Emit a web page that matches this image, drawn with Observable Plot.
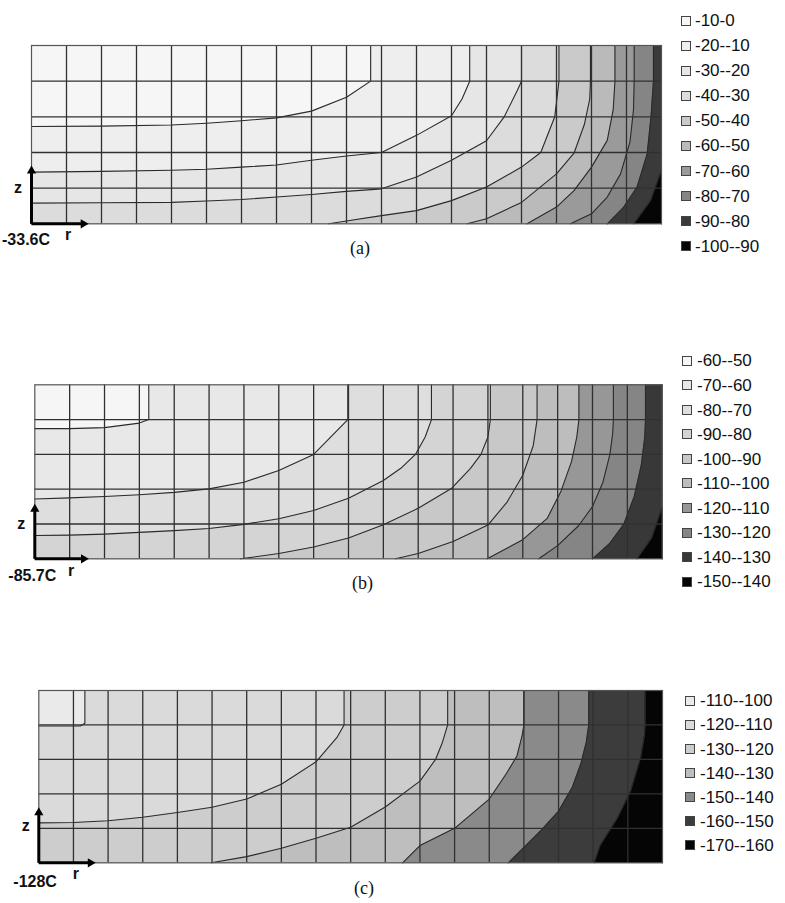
<!DOCTYPE html>
<html><head><meta charset="utf-8">
<script src="https://cdn.jsdelivr.net/npm/d3@7"></script>
<script src="https://cdn.jsdelivr.net/npm/@observablehq/plot@0.6"></script>
<style>
body{margin:0;background:#fff;}
#page{position:relative;width:785px;height:903px;background:#fff;overflow:hidden;font-family:"Liberation Sans",Arial,sans-serif;color:#111;}
.panel{position:absolute;left:0;}
.lab{position:absolute;white-space:nowrap;line-height:1;}
.sw{position:absolute;width:10px;height:10px;box-sizing:border-box;border:1px solid #444;}
.lt{position:absolute;white-space:nowrap;line-height:1;font-size:17px;color:#111;}
.bold{font-weight:bold;font-size:16px;}
.cap{font-family:"Liberation Serif","Times New Roman",serif;font-size:18px;transform:translateX(-50%);}
</style></head><body><div id="page"></div>
<script>
// ---- grid (mesh) lines, in cell units ----
const gridR = [1,2,3,4,5,6,7,8,9,10,11,12,13,14,15,16,17];
const gridZ = [1,2,3,4];

// ---- legend labels ----
const legendA = ["-10-0","-20--10","-30--20","-40--30","-50--40","-60--50","-70--60","-80--70","-90--80","-100--90"];
const legendB = ["-60--50","-70--60","-80--70","-90--80","-100--90","-110--100","-120--110","-130--120","-140--130","-150--140"];
const legendC = ["-110--100","-120--110","-130--120","-140--130","-150--140","-160--150","-170--160"];

// ---- isotherm boundaries [r, z] ----
const contoursA = [
  [[0,2.73],[2,2.74],[4,2.77],[5,2.82],[6,2.89],[7,2.97],[8,3.16],[9,3.55],[9.69,4],[9.69,5]],
  [[0,1.45],[2,1.47],[4,1.5],[5,1.53],[6,1.59],[7,1.65],[8,1.78],[9,1.9],[10,2.0],[11,2.48],[12,3.03],[12.3,3.5],[12.52,4],[12.52,5]],
  [[0,0.58],[2,0.59],[4,0.6],[5,0.64],[6,0.68],[7,0.75],[8,0.82],[9,0.91],[10,0.98],[11,1.31],[12,1.78],[13,2.33],[13.5,2.99],[13.88,3.74],[14,4],[14,5]],
  [[8.49,0],[9,0.08],[10,0.23],[11,0.37],[12,0.65],[13,1.03],[14,1.59],[14.55,2],[14.95,3],[15.07,4],[15.07,5]],
  [[12.45,0],[13,0.14],[14,0.6],[15,1.4],[15.5,1.98],[15.8,2.8],[15.95,3.5],[15.97,4],[15.97,5]],
  [[14.16,0],[15,0.47],[15.5,0.93],[16,1.59],[16.45,2.34],[16.62,3.2],[16.67,4],[16.67,5]],
  [[15.4,0],[16,0.28],[16.45,0.75],[16.83,1.4],[17.1,2.3],[17.2,3.2],[17.22,4],[17.22,5]],
  [[16.45,0],[16.92,0.47],[17.3,1.03],[17.59,1.96],[17.7,3],[17.77,4],[17.77,5]],
  [[17.21,0],[17.69,0.65],[18,1.5]]
];
const contoursB = [
  [[0,3.74],[1,3.74],[2,3.77],[3,3.9],[3.27,4],[3.27,5]],
  [[0,1.72],[1,1.75],[2,1.79],[3,1.84],[4,1.91],[5,2.01],[6,2.2],[7,2.54],[8,3.0],[8.98,4],[8.98,5]],
  [[0,0.67],[1,0.68],[2,0.71],[3,0.76],[4,0.81],[5,0.87],[6,0.99],[7,1.15],[8,1.39],[9,1.74],[10,2.25],[10.5,2.6],[10.92,3.0],[11.2,3.5],[11.38,4],[11.38,5]],
  [[5.9,0],[7,0.15],[8,0.34],[9,0.6],[10,0.98],[11,1.45],[11.95,2.02],[12.5,2.6],[12.8,3.0],[13.0,3.5],[13.07,4],[13.07,5]],
  [[10.35,0],[11,0.15],[12,0.5],[13,0.97],[13.55,1.63],[14.0,2.4],[14.3,3.25],[14.41,4],[14.41,5]],
  [[12.98,0],[14.0,0.55],[14.7,1.16],[15.1,1.95],[15.4,2.8],[15.55,3.5],[15.61,4],[15.61,5]],
  [[14.46,0],[15,0.38],[15.6,0.95],[16.0,1.5],[16.3,2.2],[16.5,3.0],[16.58,3.6],[16.6,4],[16.6,5]],
  [[16.0,0],[16.5,0.45],[16.9,1.0],[17.2,1.8],[17.4,2.7],[17.5,3.5],[17.52,4],[17.52,5]],
  [[17.28,0],[17.7,0.6],[18,1.48]]
];
const contoursC = [
  [[0,3.97],[1.2,3.97],[1.33,4.05],[1.33,5]],
  [[0,1.16],[1,1.17],[2,1.22],[3,1.32],[4,1.46],[5,1.61],[6,1.85],[7,2.28],[8,2.93],[8.6,3.63],[8.81,4],[8.81,5]],
  [[4.98,0],[6,0.18],[7,0.42],[8,0.71],[9,1.03],[10,1.62],[11,2.37],[11.45,3],[11.65,3.5],[11.8,4],[11.8,5]],
  [[10.5,0],[11,0.5],[12,1.0],[13,1.85],[13.5,2.6],[13.8,3.1],[13.95,3.7],[14,4],[14,5]],
  [[13.55,0],[14,0.45],[14.5,0.95],[15,1.5],[15.4,2.2],[15.65,2.9],[15.8,3.5],[15.87,4],[15.87,5]],
  [[16.03,0],[16.2,0.5],[16.7,1.3],[17.08,2.08],[17.37,3.05],[17.48,3.7],[17.5,4],[17.5,5]]
];

// centre temperatures and panel captions
const centreTemps = ["-33.6C","-85.7C","-128C"];
const captions = ["(a)","(b)","(c)"];

// ---- styles ----
const colorsA = ["#f6f6f6","#eeeeee","#e6e6e6","#dcdcdc","#cacaca","#bababa","#9a9a9a","#858585","#3a3a3a","#050505"];
const colorsB = ["#f6f6f6","#e8e8e8","#dedede","#d4d4d4","#c8c8c8","#bdbdbd","#979797","#858585","#383838","#050505"];
const colorsC = ["#eaeaea","#dadada","#cdcdcd","#bebebe","#8a8a8a","#3c3c3c","#050505"];

const R1 = 18, Z1 = 5;
const page = document.getElementById("page");

const layouts = [
  {contours: contoursA, colors: colorsA, legend: legendA, svgTop: 0, svgH: 300,
   frame: {l: 31, r: 661, t: 45, b: 223.3}, tipZ: 1.63, tipR: 1.63,
   legTop: 20.5, legStep: 25.05, swX: 681, txX: 695,
   capX: 360, capBase: 254, tempX: 2, tempBase: 246, rX: 65, rBase: 240.7, zX: 14, zBase: 193.3},
  {contours: contoursB, colors: colorsB, legend: legendB, svgTop: 300, svgH: 310,
   frame: {l: 34.3, r: 661.7, t: 384.3, b: 558.3}, tipZ: 1.58, tipR: 1.55,
   legTop: 360.7, legStep: 24.55, swX: 682, txX: 697,
   capX: 362.5, capBase: 589, tempX: 8.3, tempBase: 581.7, rX: 68, rBase: 576.7, zX: 17.3, zBase: 529.3},
  {contours: contoursC, colors: colorsC, legend: legendC, svgTop: 610, svgH: 293,
   frame: {l: 38.3, r: 662, t: 690, b: 862.3}, tipZ: 1.61, tipR: 1.64,
   legTop: 700.7, legStep: 24.05, swX: 685, txX: 700,
   capX: 364, capBase: 894, tempX: 13.3, tempBase: 888, rX: 72.7, rBase: 879.3, zX: 21.7, zBase: 832}
];

function addLabel(text, cls, left, top) {
  const d = document.createElement("div");
  d.className = cls;
  d.textContent = text;
  d.style.left = left + "px";
  d.style.top = top + "px";
  page.appendChild(d);
}

layouts.forEach((L, idx) => {
  const f = L.frame;
  const kx = (f.r - f.l) / R1, ky = (f.b - f.t) / Z1;
  const polys = L.contours.map(c => {
    const pts = c.map(([x, y]) => ({x, y}));
    const first = c[0], last = c[c.length - 1];
    if (last[1] >= Z1) pts.push({x: R1, y: Z1});
    pts.push({x: R1, y: 0});
    if (first[0] === 0 && first[1] > 0) pts.push({x: 0, y: 0});
    return pts;
  });
  const head = 5.2;
  const shafts = [
    {x1: 0, y1: 0, x2: 0, y2: L.tipZ - head / ky},
    {x1: 0, y1: 0, x2: L.tipR - head / kx, y2: 0}
  ];
  const svg = Plot.plot({
    width: 785, height: L.svgH,
    marginLeft: f.l, marginRight: 785 - f.r,
    marginTop: f.t - L.svgTop, marginBottom: L.svgTop + L.svgH - f.b,
    x: {domain: [0, R1], axis: null},
    y: {domain: [0, Z1], axis: null},
    style: {background: "transparent", overflow: "visible"},
    marks: [
      Plot.frame({fill: L.colors[0], stroke: null}),
      ...polys.map((p, i) => Plot.line(p, {x: "x", y: "y", fill: L.colors[i + 1], stroke: L.colors[i + 1], strokeWidth: 0.6, curve: "linear"})),
      ...L.contours.map(c => Plot.line(c, {x: d => d[0], y: d => d[1], stroke: "#2a2a2a", strokeWidth: 1.1})),
      Plot.ruleX(gridR, {stroke: "#303030", strokeWidth: 1.3}),
      Plot.ruleY(gridZ, {stroke: "#303030", strokeWidth: 1.3}),
      Plot.frame({stroke: "#555", strokeWidth: 1.2}),
      Plot.link(shafts, {x1: "x1", y1: "y1", x2: "x2", y2: "y2", stroke: "#000", strokeWidth: 3}),
      Plot.dot([{x: 0, y: L.tipZ}], {x: "x", y: "y", symbol: "triangle", r: 3.4, fill: "#000", stroke: "none", dy: head}),
      Plot.dot([{x: L.tipR, y: 0}], {x: "x", y: "y", symbol: "triangle", r: 3.4, fill: "#000", stroke: "none", rotate: 90, dx: -head})
    ]
  });
  svg.classList.add("panel");
  svg.style.top = L.svgTop + "px";
  svg.style.position = "absolute";
  page.appendChild(svg);

  // legend
  L.legend.forEach((t, i) => {
    const cy = L.legTop + i * L.legStep;
    const s = document.createElement("div");
    s.className = "sw";
    s.style.left = L.swX + "px";
    s.style.top = (cy - 5) + "px";
    s.style.background = L.colors[i];
    page.appendChild(s);
    addLabel(t, "lt", L.txX, cy - 8.3);
  });
  // labels
  addLabel(captions[idx], "lab cap", L.capX, L.capBase - 0.8375 * 18);
  addLabel(centreTemps[idx], "lab bold", L.tempX, L.tempBase - 0.8465 * 16);
  addLabel("r", "lab bold", L.rX, L.rBase - 0.8465 * 16);
  addLabel("z", "lab bold", L.zX, L.zBase - 0.8465 * 16);
});
</script>
</body></html>
